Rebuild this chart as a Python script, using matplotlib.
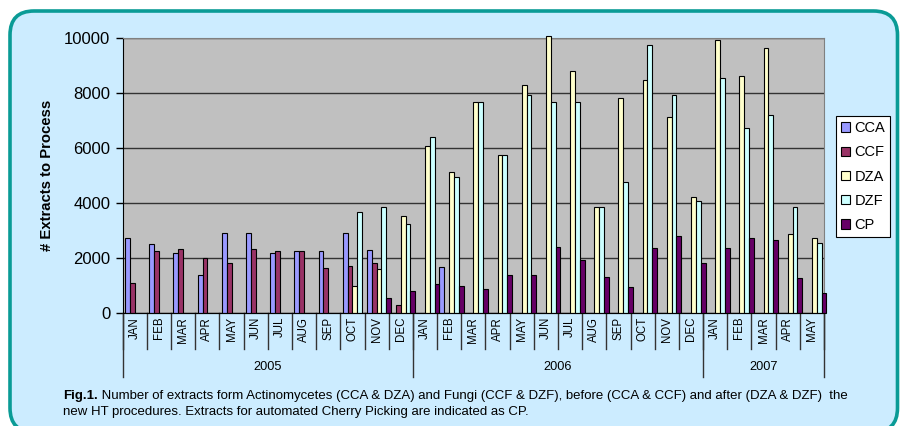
import numpy as np
import matplotlib.pyplot as plt
from matplotlib.patches import FancyBboxPatch, Patch

plt.rcParams['font.family'] = ['Liberation Sans', 'DejaVu Sans']

# Data
months = ['JAN', 'FEB', 'MAR', 'APR', 'MAY', 'JUN', 'JUL', 'AUG', 'SEP', 'OCT', 'NOV', 'DEC',
          'JAN', 'FEB', 'MAR', 'APR', 'MAY', 'JUN', 'JUL', 'AUG', 'SEP', 'OCT', 'NOV', 'DEC',
          'JAN', 'FEB', 'MAR', 'APR', 'MAY']
years = ['2005', '2006', '2007']
year_counts = [12, 12, 5]

cca = [2710, 2490, 2160, 1360, 2890, 2890, 2160, 2240, 2240, 2890, 2280, 0,
       0, 1680, 0, 0, 0, 0, 0, 0, 0, 0, 0, 0,
       0, 0, 0, 0, 0]
ccf = [1090, 2240, 2320, 1990, 1820, 2320, 2240, 2240, 1620, 1690, 1820, 290,
       0, 0, 0, 0, 0, 0, 0, 0, 0, 0, 0, 0,
       0, 0, 0, 0, 0]
dza = [0, 0, 0, 0, 0, 0, 0, 0, 0, 970, 1600, 3510,
       6060, 5120, 7670, 5760, 8310, 10080, 8820, 3840, 7840, 8470, 7120, 4230,
       9920, 8640, 9660, 2880, 2710]
dzf = [0, 0, 0, 0, 0, 0, 0, 0, 0, 3680, 3850, 3220,
       6400, 4960, 7670, 5760, 7920, 7670, 7670, 3840, 4780, 9760, 7920, 4060,
       8570, 6730, 7200, 3840, 2530]
cp = [0, 0, 0, 0, 0, 0, 0, 0, 0, 0, 550, 800,
      1050, 960, 850, 1360, 1360, 2410, 1910, 1300, 920, 2360, 2780, 1810,
      2360, 2710, 2660, 1250, 710]

series = [('CCA', cca, '#9999FF'), ('CCF', ccf, '#993366'), ('DZA', dza, '#FFFFCC'),
          ('DZF', dzf, '#CCFFFF'), ('CP', cp, '#660066')]

W, H = 901, 426
fig = plt.figure(figsize=(W / 100, H / 100), dpi=100)
fig.patch.set_facecolor('white')

# background panel with rounded teal border (pixel coordinates)
bg = fig.add_axes([0, 0, 1, 1])
bg.set_xlim(0, W)
bg.set_ylim(H, 0)
bg.axis('off')
bg.add_patch(FancyBboxPatch((10, 11), 887.5, 421, boxstyle='round,pad=0,rounding_size=24',
                            facecolor='#CCECFF', edgecolor='#0A9B96', linewidth=2.6))

# main plot
x0, x1, y0, y1 = 122.7, 824, 38.3, 312.7
ax = fig.add_axes([x0 / W, 1 - y1 / H, (x1 - x0) / W, (y1 - y0) / H])
ax.set_facecolor('#C0C0C0')

x = np.arange(len(months))
bw = 0.2
for k, (name, vals, col) in enumerate(series):
    ax.bar(x - 0.4 + bw * (k + 0.5), vals, width=bw, color=col, edgecolor='black',
           linewidth=0.8, label=name, zorder=3, clip_on=False)

ax.set_xlim(-0.5, len(months) - 0.5)
ax.set_ylim(0, 10000)
ax.set_yticks(np.arange(0, 10001, 2000))
ax.yaxis.grid(True, color='#333333', linewidth=1)
ax.set_axisbelow(True)
ax.tick_params(axis='y', labelsize=12, length=5, width=1, direction='out', pad=4)
ax.set_xticks([])
for s in ['top', 'right']:
    ax.spines[s].set_color('#808080')
ax.spines['left'].set_color('black')
ax.spines['bottom'].set_color('black')
ax.spines['bottom'].set_zorder(4)

ax.set_ylabel('# Extracts to Process', fontsize=10.7, fontweight='bold', labelpad=7.5)

# month labels and separators
tr = ax.get_xaxis_transform()
for i, m in enumerate(months):
    ax.text(i, -0.015, m, transform=tr, rotation=90, ha='center', va='top', fontsize=8.3)
for i in range(len(months) + 1):
    ax.plot([i - 0.5, i - 0.5], [0, -0.132], transform=tr, color='#333333',
            linewidth=1, clip_on=False)

# year labels and separators
start = 0
for yr, n in zip(years, year_counts):
    ax.plot([start - 0.5, start - 0.5], [0, -0.234], transform=tr, color='#333333',
            linewidth=1, clip_on=False)
    ax.text(start + n / 2 - 0.5, -0.199, yr, transform=tr, ha='center', va='center',
            fontsize=9.2)
    start += n
ax.plot([start - 0.5, start - 0.5], [0, -0.234], transform=tr, color='#333333',
        linewidth=1, clip_on=False)

# legend
handles = [Patch(facecolor=c, edgecolor='black', linewidth=0.8) for _, _, c in series]
leg = fig.legend(handles, [n for n, _, _ in series], loc='upper left',
                 bbox_to_anchor=(835.7 / W, 1 - 116 / H), fontsize=10.5, frameon=True,
                 fancybox=False, edgecolor='black', framealpha=1, handlelength=0.62,
                 handleheight=0.62, handletextpad=0.3, labelspacing=0.7, borderpad=0.36,
                 borderaxespad=0)
leg.get_frame().set_linewidth(0.8)

# caption
t1 = fig.text(63 / W, 1 - 396 / H, 'Fig.1.', fontsize=9.5, fontweight='bold', va='center')
ax.annotate(' Number of extracts form Actinomycetes (CCA & DZA) and Fungi (CCF & DZF), '
            'before (CCA & CCF) and after (DZA & DZF)  the',
            xy=(1, 0), xycoords=t1, va='bottom', ha='left', fontsize=9.5,
            annotation_clip=False)
fig.text(63 / W, 1 - 411.5 / H,
         'new HT procedures. Extracts for automated Cherry Picking are indicated as CP.',
         fontsize=9.5, va='center')

fig.savefig('out.png', dpi=100)
